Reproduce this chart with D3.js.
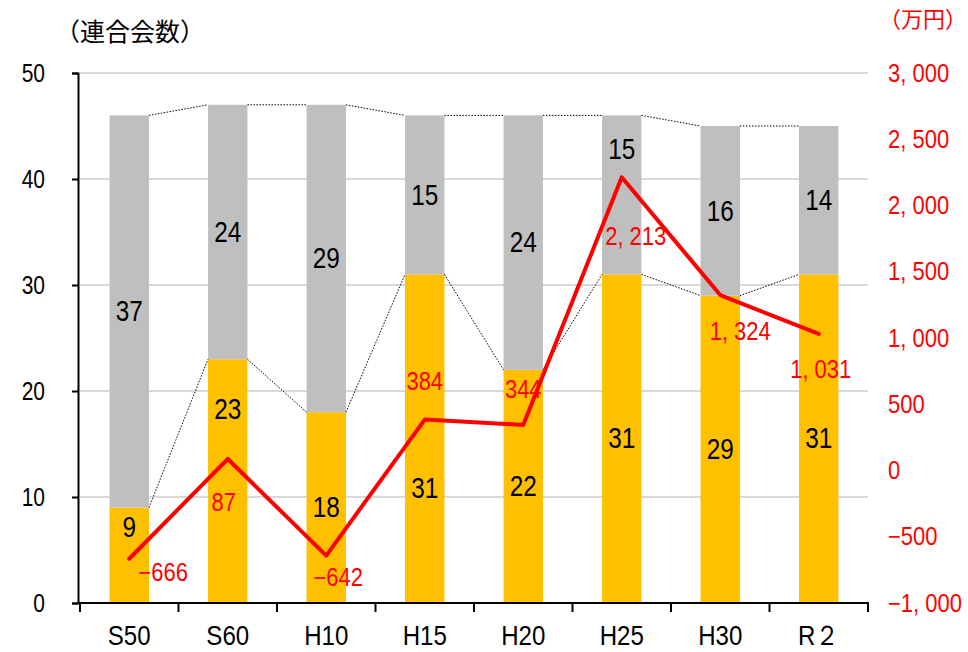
<!DOCTYPE html>
<html><head><meta charset="utf-8">
<script src="https://cdn.jsdelivr.net/npm/d3@7"></script>
<style>body{margin:0;background:#fff}svg{font-family:"Liberation Sans",Arial,sans-serif}</style>
</head><body><svg id="c" width="968" height="652"></svg>
<script>
const categories = ["S50","S60","H10","H15","H20","H25","H30","R２"];
const orangeVals = [9,23,18,31,22,31,29,31];
const grayVals = [37,24,29,15,24,15,16,14];
const lineVals = [-666,87,-642,384,344,2213,1324,1031];
const leftTicks = [0,10,20,30,40,50];
const rightTicks = [-1000,-500,0,500,1000,1500,2000,2500,3000];
// manual label nudges (px) as in the original
const orangeLabelDy = [-28,-72,0,50,0,0,0,0];
const grayLabelDy = [0,0,0,0,0,-46,0,0];
const lineLabelDx = [34,-4,12,0,0,14,20,2];
const lineLabelDy = [14,44,22,-38,-35,59,36,36];

const svg = d3.select("#c");
const m = {l:80,r:868,t:73,b:603};
const x = d3.scaleBand().domain(categories).range([m.l,m.r]).paddingInner(0.6).paddingOuter(0.3);
const y = d3.scaleLinear().domain([0,50]).range([m.b,m.t]);
const y2 = d3.scaleLinear().domain([-1000,3000]).range([m.b,m.t]);
const bw = x.bandwidth();

// horizontally condense text (narrow gothic look)
function squeeze(sel, sx){
  sel.each(function(){
    const t = d3.select(this);
    const xv = +(t.attr("x")||0);
    t.attr("x", xv/sx).attr("transform",`scale(${sx},1)`);
  });
}

// grid
svg.append("g").selectAll("line").data(leftTicks.slice(1)).join("line")
  .attr("x1",m.l).attr("x2",m.r).attr("y1",d=>y(d)).attr("y2",d=>y(d))
  .attr("stroke","#d9d9d9").attr("stroke-width",2);

// bars
const totals = orangeVals.map((v,i)=>v+grayVals[i]);
svg.append("g").selectAll("rect").data(categories).join("rect")
  .attr("x",d=>x(d)).attr("width",bw)
  .attr("y",(d,i)=>y(orangeVals[i])).attr("height",(d,i)=>y(0)-y(orangeVals[i]))
  .attr("fill","#FFC000");
svg.append("g").selectAll("rect").data(categories).join("rect")
  .attr("x",d=>x(d)).attr("width",bw)
  .attr("y",(d,i)=>y(totals[i])).attr("height",(d,i)=>y(orangeVals[i])-y(totals[i]))
  .attr("fill","#BFBFBF");

// series lines (dotted)
const sl = svg.append("g").attr("stroke","#000").attr("stroke-width",1).attr("stroke-dasharray","1.5,1.5");
[totals,orangeVals].forEach(arr=>{
  for(let i=0;i<categories.length-1;i++){
    sl.append("line").attr("x1",x(categories[i])+bw).attr("y1",y(arr[i]))
      .attr("x2",x(categories[i+1])).attr("y2",y(arr[i+1]));
  }
});

// bar labels
const lbl = svg.append("g").attr("font-size",29).attr("text-anchor","middle").attr("dominant-baseline","central").attr("fill","#000");
categories.forEach((c,i)=>{
  lbl.append("text").attr("x",x(c)+bw/2).attr("y",y(orangeVals[i]/2)+orangeLabelDy[i]).text(orangeVals[i]);
  lbl.append("text").attr("x",x(c)+bw/2).attr("y",y(orangeVals[i]+grayVals[i]/2)+grayLabelDy[i]).text(grayVals[i]);
});
squeeze(lbl.selectAll("text"),0.84);

// line
const cx = c=>x(c)+bw/2;
svg.append("path").datum(lineVals)
  .attr("d",d3.line().x((d,i)=>cx(categories[i])).y(d=>y2(d)))
  .attr("fill","none").attr("stroke","#FF0000").attr("stroke-width",4).attr("stroke-linejoin","round").attr("stroke-linecap","round");
const fmt = v => d3.format(",")(v).replace(/,/g,", ");
const rl = svg.append("g").attr("font-size",25).attr("fill","#FF0000").attr("text-anchor","middle").attr("dominant-baseline","central");
rl.selectAll("text").data(lineVals).join("text")
  .attr("x",(d,i)=>cx(categories[i])+lineLabelDx[i]).attr("y",(d,i)=>y2(d)+lineLabelDy[i])
  .text(d=>fmt(d));
squeeze(rl.selectAll("text"),0.88);

// left axis
const la = svg.append("g").attr("transform",`translate(${m.l-2},0)`)
  .call(d3.axisLeft(y).tickValues(leftTicks).tickSize(6).tickPadding(27).tickFormat(d3.format("d")));
la.select(".domain").attr("stroke","#000").attr("stroke-width",2);
la.selectAll(".tick line").attr("stroke","#000").attr("stroke-width",2);
la.selectAll("text").attr("font-size",25).attr("fill","#000").attr("font-family",null);
squeeze(la.selectAll("text"),0.84);

// right axis
const ra = svg.append("g").attr("transform",`translate(${m.r},0)`)
  .call(d3.axisRight(y2).tickValues(rightTicks).tickSize(0).tickPadding(20).tickFormat(fmt));
ra.select(".domain").remove();
ra.selectAll("text").attr("font-size",25).attr("fill","#FF0000").attr("font-family",null);
squeeze(ra.selectAll("text"),0.88);

// bottom axis
const bx = svg.append("g").attr("transform",`translate(0,${m.b})`);
bx.append("line").attr("x1",m.l-2).attr("x2",m.r+1).attr("stroke","#000").attr("stroke-width",2);
const bounds = d3.range(categories.length+1).map(i=>m.l + i*(m.r-m.l)/categories.length);
bx.selectAll(".tk").data(bounds).join("line").attr("class","tk")
  .attr("x1",d=>d).attr("x2",d=>d).attr("y1",0).attr("y2",9).attr("stroke","#000").attr("stroke-width",2);
bx.selectAll("text").data(categories).join("text")
  .attr("x",d=>cx(d)).attr("y",32).attr("text-anchor","middle").attr("dominant-baseline","central")
  .attr("font-size",28).attr("fill","#000").text(d=>d);
squeeze(bx.selectAll("text"),0.86);

// titles
svg.append("text").attr("x",130).attr("y",30).attr("text-anchor","middle").attr("dominant-baseline","central")
  .attr("font-size",25).attr("font-family","Noto Sans CJK JP").attr("fill","#000").text("（連合会数）");
svg.append("text").attr("x",967).attr("y",17).attr("text-anchor","end").attr("dominant-baseline","central")
  .attr("font-size",22).attr("font-family","Noto Sans CJK JP").attr("fill","#FF0000").text("（万円）");
</script></body></html>
